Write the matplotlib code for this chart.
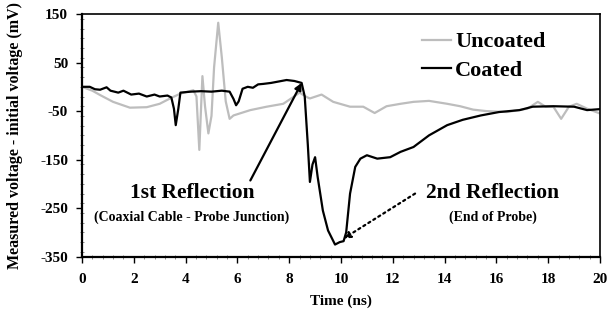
import matplotlib.pyplot as plt
from matplotlib.ticker import MultipleLocator

plt.rcParams['font.family'] = ['Liberation Serif', 'DejaVu Serif']
plt.rcParams['font.weight'] = 'bold'
plt.rcParams['axes.unicode_minus'] = False

# ==============================
# Data
# ==============================
coated_t = [0, 0.3, 0.5, 0.7, 0.95, 1.1, 1.4, 1.6, 1.9, 2.2, 2.5, 2.8, 3.0, 3.3, 3.45,
            3.55, 3.62, 3.72, 3.8, 4.2, 4.6, 5.0, 5.4, 5.7, 5.85, 5.95, 6.05, 6.2, 6.4,
            6.6, 6.8, 7.0, 7.3, 7.6, 7.9, 8.2, 8.48, 8.6, 8.72, 8.8, 8.9, 9.0, 9.1, 9.3,
            9.5, 9.77, 9.95, 10.1, 10.2, 10.35, 10.55, 10.75, 11.0, 11.4, 11.9, 12.3,
            12.8, 13.4, 14.1, 14.7, 15.4, 16.1, 16.9, 17.4, 18.2, 19.0, 19.5, 20.0]
coated_v = [0, 0, -5, -6, -1, -8, -12, -8, -16, -14, -20, -16, -20, -18, -22,
            -45, -79, -45, -12, -10, -9, -10, -8, -10, -25, -38, -30, -4, 0,
            -2, 5, 6, 8, 11, 14, 12, 8, -20, -120, -196, -160, -145, -186, -255,
            -296, -325, -320, -318, -300, -220, -165, -148, -141, -148, -145, -134,
            -124, -100, -79, -68, -59, -52, -48, -41, -40, -41, -48, -46]

uncoated_t = [0, 0.4, 0.7, 1.2, 1.85, 2.5, 3.0, 3.4, 3.8, 4.3, 4.42, 4.53, 4.6, 4.65,
              4.75, 4.88, 5.0, 5.1, 5.26, 5.4, 5.55, 5.7, 5.85, 6.5, 7.13, 7.77, 8.16,
              8.4, 8.67, 8.8, 9.25, 9.7, 10.35, 10.86, 11.3, 11.76, 12.3, 12.8, 13.4,
              14.1, 14.6, 15.1, 15.6, 16.4, 17.2, 17.6, 17.9, 18.2, 18.5, 18.8, 19.1,
              19.5, 20.0]
uncoated_v = [0, -8, -17, -31, -43, -42, -35, -24, -14, -7, -20, -130, -40, 22,
              -40, -96, -60, 40, 132, 60, -30, -66, -59, -48, -41, -35, -21,
              -12, -21, -24, -16, -31, -41, -41, -54, -40, -35, -31, -29,
              -35, -40, -47, -50, -52, -45, -31, -41, -41, -66, -41, -35,
              -45, -55]

first_tip = (8.48, 8)
first_tail = (6.5, -193)
second_tip = (10.09, -313)
second_tail = (12.86, -220)

# ==============================
# Plot
# ==============================
fig = plt.figure(figsize=(6.1, 3.16), dpi=100)
ax = fig.add_axes([0.1344, 0.1877, 0.8492, 0.768])

ax.plot(uncoated_t, uncoated_v, color='#bdbdbd', lw=1.6, label='Uncoated')
ax.plot(coated_t, coated_v, color='black', lw=1.6, label='Coated')

ax.set_xlim(0, 20)
ax.set_ylim(-350, 150)
ax.xaxis.set_major_locator(MultipleLocator(2))
ax.xaxis.set_minor_locator(MultipleLocator(0.4))
ax.set_yticks([150, 50, -50, -150, -250, -350])
ax.yaxis.set_minor_locator(MultipleLocator(20))
ax.tick_params(which='major', direction='out', length=4, width=1, labelsize=11)
ax.tick_params(which='minor', direction='inout', length=3, width=0.6, color='#777777')
ax.tick_params(axis='x', pad=8)
ax.tick_params(axis='y', pad=6)
for s in ['left', 'bottom']:
    ax.spines[s].set_linewidth(1.6)
for s in ['top', 'right']:
    ax.spines[s].set_linewidth(1.2)

ax.set_xlabel("Time (ns)", fontsize=11, fontweight='bold', labelpad=6)
ax.set_ylabel("Measured voltage - initial voltage (mV)", fontsize=11.5,
              fontweight='bold', labelpad=12)

# annotations
ax.annotate("", xy=first_tip, xytext=first_tail,
            arrowprops=dict(arrowstyle='-|>', color='black', lw=1.6,
                            mutation_scale=10, shrinkA=0, shrinkB=0))
ax.annotate("", xy=second_tip, xytext=second_tail,
            arrowprops=dict(arrowstyle='-|>', color='black', lw=1.6,
                            linestyle=':', mutation_scale=10, shrinkA=0, shrinkB=0))
ax.text(4.25, -218, "1st Reflection", fontsize=15.5, fontweight='bold',
        ha='center', va='center')
ax.text(4.25, -268, "(Coaxial Cable - Probe Junction)", fontsize=10,
        fontweight='bold', ha='center', va='center')
ax.text(15.85, -218, "2nd Reflection", fontsize=15.5, fontweight='bold',
        ha='center', va='center')
ax.text(15.85, -268, "(End of Probe)", fontsize=10, fontweight='bold',
        ha='center', va='center')

ax.legend(loc='upper left', bbox_to_anchor=(0.622, 1.0), frameon=False,
          prop={'size': 16, 'weight': 'bold'}, handlelength=1.3,
          handletextpad=0.2, labelspacing=0.35, borderpad=0.3)

plt.savefig("out.png", dpi=100)
plt.close()
